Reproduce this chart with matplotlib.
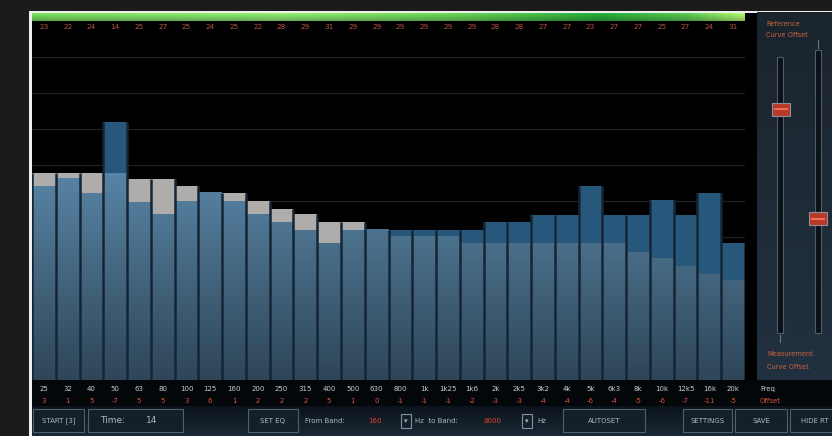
import numpy as np
import matplotlib
matplotlib.use("Agg")
import matplotlib.pyplot as plt
from matplotlib.patches import Rectangle
from matplotlib.colors import LinearSegmentedColormap

# ---------------- data ----------------
freqs = ["25", "32", "40", "50", "63", "80", "100", "125", "160", "200",
         "250", "315", "400", "500", "630", "800", "1k", "1k25", "1k6", "2k",
         "2k5", "3k2", "4k", "5k", "6k3", "8k", "10k", "12k5", "16k", "20k"]
levels = ["23", "22", "24", "14", "25", "27", "25", "24", "25", "22",
          "28", "29", "31", "29", "29", "29", "29", "29", "29", "28",
          "28", "27", "27", "23", "27", "27", "25", "27", "24", "31"]
offsets = [3, 1, 5, -7, 5, 5, 3, 6, 1, 2, 2, 2, 5, 1, 0, -1, -1, -1, -2, -3,
           -3, -4, -4, -6, -4, -5, -6, -7, -11, -5]
target_db = [28.9, 28.9, 28.9, 28.9, 28.0, 28.0, 27.1, 26.1, 26.1, 25.0,
             23.9, 23.2, 22.1, 22.1, 21.0, 20.1, 20.1, 20.1, 19.1, 19.1,
             19.1, 19.1, 19.1, 19.1, 19.1, 17.9, 17.1, 16.0, 14.9, 14.0]
measured_db = [27.0, 28.2, 26.1, 36.0, 24.9, 23.2, 25.0, 26.1, 25.0, 23.2,
               22.1, 21.0, 19.2, 21.0, 21.0, 20.9, 20.9, 20.9, 20.9, 22.1,
               22.1, 23.1, 23.1, 27.1, 23.1, 23.1, 25.1, 23.1, 26.1, 19.1]

W, H = 832, 436
fig = plt.figure(figsize=(W / 100, H / 100), dpi=100)
fig.patch.set_facecolor('#1c1b19')

bg = fig.add_axes([0, 0, 1, 1])
bg.axis('off')
bg.set_autoscale_on(False)
bg.set_xlim(0, W)
bg.set_ylim(H, 0)


def rect(x0, y0, x1, y1, fc, ec='none', lw=0, z=1):
    bg.add_patch(Rectangle((x0, y0), x1 - x0, y1 - y0, facecolor=fc,
                           edgecolor=ec, linewidth=lw, zorder=z))


# frame and panels
rect(29, 11, W, H, '#efefef', z=0)
rect(32, 13, W, H, '#000000', z=0.5)
panel_grad = np.linspace(0, 1, 50).reshape(-1, 1)
cm_panel = LinearSegmentedColormap.from_list('p', ['#1a242d', '#223140'])
bg.imshow(panel_grad, cmap=cm_panel, extent=[757, W, 380, 13], aspect='auto',
          zorder=1, interpolation='bilinear')
rect(32, 380, W, 407, '#04070a', z=1.1)
# button row gradient
btn_grad = np.linspace(0, 1, 30).reshape(-1, 1)
cm_btn = LinearSegmentedColormap.from_list('b', ['#0c141b', '#1a2834'])
bg.imshow(btn_grad, cmap=cm_btn, extent=[32, W, 436, 406], aspect='auto',
          zorder=1.2, interpolation='bilinear')

# green level strip
xs = np.linspace(0, 1, 300)
stops = [(0.0, (0.42, 0.78, 0.34)), (0.35, (0.50, 0.82, 0.40)),
         (0.6, (0.36, 0.74, 0.30)), (0.8, (0.14, 0.60, 0.20)),
         (0.92, (0.30, 0.70, 0.28)), (1.0, (0.62, 0.86, 0.40))]
cm_green = LinearSegmentedColormap.from_list('g', stops)
gimg = cm_green(xs)[None, :, :3].repeat(8, axis=0)
shade = np.linspace(1.15, 0.85, 8)[:, None, None]
gimg = np.clip(gimg * shade, 0, 1)
bg.imshow(gimg, extent=[32, 745, 21, 13], aspect='auto', zorder=2,
          interpolation='bilinear')

# ---------------- bars axes ----------------
px_per_db = 7.2
y_bot_px, y_top_px = 380, 22
ylo = 0.4 - (y_bot_px - 378) / px_per_db
yhi = 0.4 + (378 - y_top_px) / px_per_db
ax = fig.add_axes([32 / W, (H - y_bot_px) / H, 713 / W, (y_bot_px - y_top_px) / H])
ax.set_facecolor('none')
ax.set_xlim(-0.5, len(freqs) - 0.5)
ax.set_ylim(ylo, yhi)
for s in ax.spines.values():
    s.set_visible(False)
ax.set_xticks([])
ax.set_yticks([])

for g in [15, 20, 25, 30, 35, 40, 45]:
    ax.axhline(g, color='#222222', lw=0.9, zorder=0)

cm_blue = LinearSegmentedColormap.from_list(
    'bl', ['#2e4659', '#44667f', '#5a86a8'])
for i, (t, m) in enumerate(zip(target_db, measured_db)):
    base = min(t, m)
    grad = np.linspace(ylo, base, 64).reshape(-1, 1)
    ax.imshow(grad, cmap=cm_blue, vmin=0, vmax=30, origin='lower',
              extent=[i - 0.5, i + 0.5, ylo, base], aspect='auto',
              zorder=2, interpolation='bilinear')
    if t > m:
        ax.bar(i, t - m, bottom=m, width=1.0, color='#aeadac', zorder=3,
               edgecolor='none')
    elif m > t:
        ax.bar(i, m - t, bottom=t, width=1.0, color='#27577a', zorder=3,
               edgecolor='none')
ax.set_xlim(-0.5, len(freqs) - 0.5)
ax.set_ylim(ylo, yhi)

tops = [max(t, m) for t, m in zip(target_db, measured_db)]
for i in range(len(freqs) + 1):
    left_top = tops[i - 1] if i > 0 else 0
    right_top = tops[i] if i < len(freqs) else 0
    ax.vlines(i - 0.5, ylo, max(left_top, right_top), color='#142636',
              lw=1.8, zorder=4)

xt = ax.get_xaxis_transform()
span = y_bot_px - y_top_px
for i, lv in enumerate(levels):
    ax.text(i, (y_bot_px - 27) / span, lv, transform=xt, ha='center',
            va='center', fontsize=5.2, color='#b85446', zorder=6)
for i, f in enumerate(freqs):
    ax.text(i, -(389 - y_bot_px) / span, f, transform=xt,
            ha='center', va='center', fontsize=5.0, color='#c9ccd0',
            clip_on=False)
    ax.text(i, -(401 - y_bot_px) / span, str(offsets[i]),
            transform=xt, ha='center', va='center', fontsize=5.0,
            color='#d8553a', clip_on=False)

# ---------------- right panel ----------------
red = '#d0603e'
bg.text(766, 24, 'Reference', fontsize=4.8, color=red, va='center', zorder=5)
bg.text(766, 35, 'Curve Offset', fontsize=4.8, color=red, va='center', zorder=5)
bg.text(767, 354, 'Measurement', fontsize=4.8, color=red, va='center', zorder=5)
bg.text(767, 367, 'Curve Offset', fontsize=4.8, color=red, va='center', zorder=5)
rect(777, 57, 783, 333, '#0b1116', ec='#4e5d69', lw=0.8, z=3)
rect(815, 50, 821, 333, '#0b1116', ec='#4e5d69', lw=0.8, z=3)
bg.plot([818, 818], [40, 48], color='#6b7780', lw=0.8, zorder=3)
bg.plot([780, 780], [335, 342], color='#6b7780', lw=0.8, zorder=3)
rect(772, 103, 790, 116, '#b83a2a', ec='#8d8f9c', lw=0.8, z=4)
rect(809, 212, 827, 225, '#b83a2a', ec='#8d8f9c', lw=0.8, z=4)
bg.plot([775, 787], [109.5, 109.5], color='#ff7a5a', lw=1.2, zorder=5)
bg.plot([812, 824], [218.5, 218.5], color='#ff7a5a', lw=1.2, zorder=5)
bg.text(760, 389, 'Freq', fontsize=5.0, color='#c9ccd0', va='center', zorder=5)
bg.text(760, 401, 'Offset', fontsize=5.0, color='#d8553a', va='center', zorder=5)

# ---------------- buttons ----------------
txtc = '#aab6c2'
edge = '#4d6070'
face = '#142029'
for (x0, x1, label) in [(33, 84, 'START [3]'), (248, 298, 'SET EQ'),
                        (563, 645, 'AUTOSET'), (683, 732, 'SETTINGS'),
                        (735, 787, 'SAVE'), (790, 840, 'HIDE RT')]:
    rect(x0, 409, x1, 432, face, ec=edge, lw=0.8, z=3)
    bg.text((x0 + x1) / 2, 420.5, label, fontsize=5.0, color=txtc,
            ha='center', va='center', zorder=5, clip_on=True)
rect(88, 409, 183, 432, face, ec=edge, lw=0.8, z=3)
bg.text(100, 420.5, 'Time:', fontsize=6.5, color=txtc, va='center', zorder=5)
bg.text(146, 420.5, '14', fontsize=6.5, color=txtc, va='center', zorder=5)
bg.text(305, 420.5, 'From Band:', fontsize=5.0, color=txtc, va='center', zorder=5)
bg.text(368, 420.5, '160', fontsize=5.0, color='#e0402a', va='center', zorder=5)
rect(401, 414, 411, 428, face, ec='#8090a0', lw=0.8, z=3)
bg.text(406, 421, '▾', fontsize=5.0, color=txtc, ha='center', va='center', zorder=5)
bg.text(415, 420.5, 'Hz  to Band:', fontsize=5.0, color=txtc, va='center', zorder=5)
bg.text(483, 420.5, '8000', fontsize=5.0, color='#e0402a', va='center', zorder=5)
rect(522, 414, 532, 428, face, ec='#8090a0', lw=0.8, z=3)
bg.text(527, 421, '▾', fontsize=5.0, color=txtc, ha='center', va='center', zorder=5)
bg.text(537, 420.5, 'Hz', fontsize=5.0, color=txtc, va='center', zorder=5)

bg.set_xlim(0, W)
bg.set_ylim(H, 0)
fig.savefig('out.png', dpi=100, facecolor=fig.get_facecolor())
